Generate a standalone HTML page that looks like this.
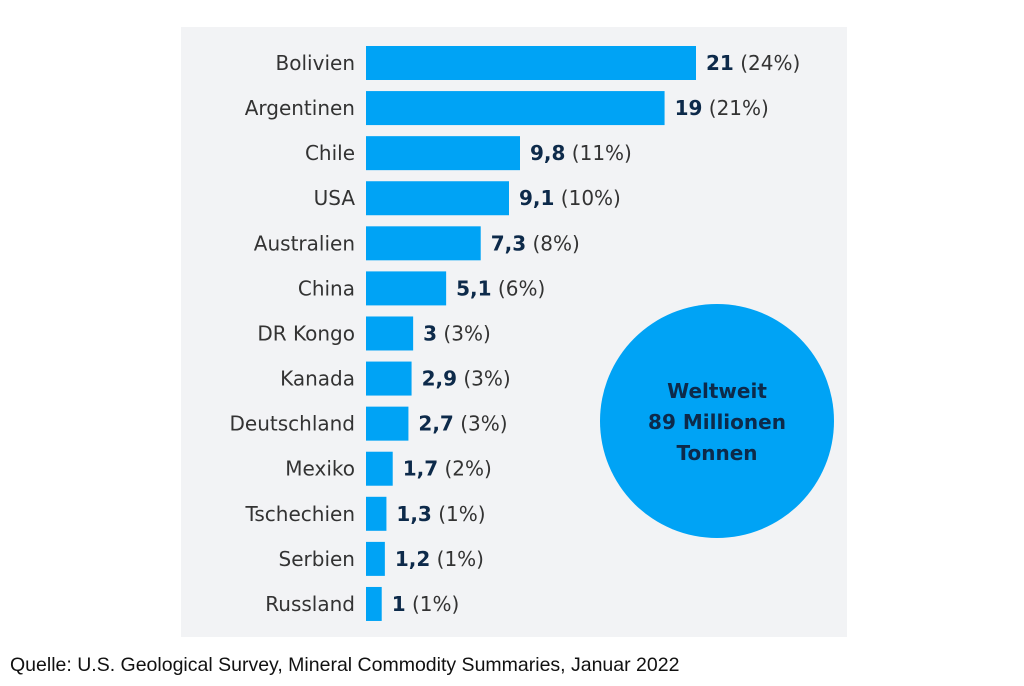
<!DOCTYPE html>
<html><head><meta charset="utf-8">
<style>
body{margin:0;width:1024px;height:682px;background:#fff;overflow:hidden;font-family:"DejaVu Sans","Liberation Sans",sans-serif;}
</style></head>
<body>
<svg width="1024" height="682">
<rect x="181" y="27" width="666" height="610" fill="#f2f3f5"/>
<g id="bars"></g>
<circle cx="717" cy="421" r="117" fill="#00a3f5"/>
<text x="717" y="398" text-anchor="middle" font-size="20" font-weight="bold" fill="#0d2a4a"><tspan x="717" dy="0">Weltweit</tspan><tspan x="717" dy="31">89 Millionen</tspan><tspan x="717" dy="31">Tonnen</tspan></text>
<text x="10" y="671" font-family="Liberation Sans, sans-serif" font-size="19.5" fill="#111">Quelle: U.S. Geological Survey, Mineral Commodity Summaries, Januar 2022</text>
</svg>
<script>
const categories=["Bolivien","Argentinen","Chile","USA","Australien","China","DR Kongo","Kanada","Deutschland","Mexiko","Tschechien","Serbien","Russland"];
const values=[21,19,9.8,9.1,7.3,5.1,3,2.9,2.7,1.7,1.3,1.2,1];
const valueLabels=["21","19","9,8","9,1","7,3","5,1","3","2,9","2,7","1,7","1,3","1,2","1"];
const pctLabels=["(24%)","(21%)","(11%)","(10%)","(8%)","(6%)","(3%)","(3%)","(3%)","(2%)","(1%)","(1%)","(1%)"];
const ns="http://www.w3.org/2000/svg";
const g=document.getElementById("bars");
const x0=366, scale=330/21, y0=46, pitch=45.08, bh=34;
const xs=v=>x0+v*scale, ys=i=>y0+i*pitch;
categories.forEach((c,i)=>{
  const y=ys(i), w=xs(values[i])-x0;
  const r=document.createElementNS(ns,"rect");
  
  
  r.setAttribute("x",x0);r.setAttribute("y",y);r.setAttribute("width",w);r.setAttribute("height",bh);r.setAttribute("fill","#00a3f5");
  g.appendChild(r);
  const t=document.createElementNS(ns,"text");
  
  
  t.setAttribute("x",355);t.setAttribute("y",y+bh/2+7);t.setAttribute("text-anchor","end");t.setAttribute("font-size","20");t.setAttribute("fill","#333");
  t.textContent=c;g.appendChild(t);
  const v=document.createElementNS(ns,"text");
  
  
  v.setAttribute("x",xs(values[i])+10);v.setAttribute("y",y+bh/2+7);v.setAttribute("font-size","20");
  const b=document.createElementNS(ns,"tspan");b.setAttribute("font-weight","bold");b.setAttribute("fill","#0d2a4a");b.textContent=valueLabels[i];
  const p=document.createElementNS(ns,"tspan");p.setAttribute("fill","#333");p.textContent=" "+pctLabels[i];
  v.appendChild(b);v.appendChild(p);g.appendChild(v);
});
</script>
</body></html>
